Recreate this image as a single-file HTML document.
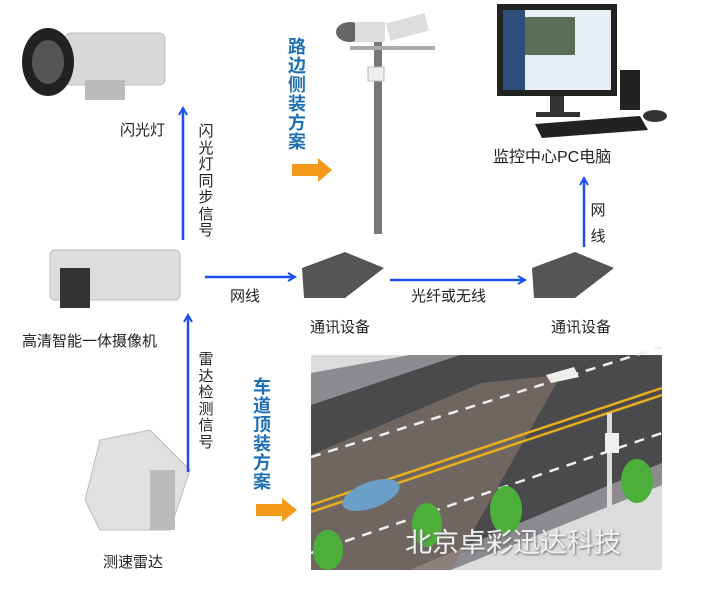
<!DOCTYPE html>
<html><head><meta charset="utf-8"><style>
body{margin:0;width:704px;height:589px;background:#fff;overflow:hidden;position:relative;font-family:"Liberation Sans","Noto Sans CJK SC",sans-serif}
.t{position:absolute;font-size:15px;color:#222;white-space:nowrap;line-height:1}
.v{position:absolute;font-size:15px;color:#222;width:16px;line-height:16.5px;text-align:center}
.b{color:#1f6fb5;font-size:18px;line-height:19px;width:20px;font-weight:bold}
svg{position:absolute;left:0;top:0}
</style></head><body>
<svg width="704" height="589">
<defs><marker id="a" markerWidth="10" markerHeight="10" refX="8" refY="5" orient="auto" markerUnits="userSpaceOnUse"><path d="M1,1 L8,5 L1,9" fill="none" stroke="#1a4ff0" stroke-width="2"/></marker></defs>
<!-- flash lamp -->
<rect x="65" y="33" width="100" height="52" rx="6" fill="#d8d8d8" stroke="#bbb"/>
<ellipse cx="48" cy="62" rx="26" ry="34" fill="#222"/>
<ellipse cx="48" cy="62" rx="16" ry="22" fill="#555"/>
<rect x="85" y="80" width="40" height="20" fill="#bbb"/>
<!-- camera -->
<rect x="50" y="250" width="130" height="50" rx="5" fill="#ddd" stroke="#bbb"/>
<rect x="60" y="268" width="30" height="40" fill="#333"/>
<!-- pole -->
<rect x="374" y="26" width="8" height="208" fill="#777"/>
<rect x="350" y="46" width="85" height="4" fill="#aaa"/>
<ellipse cx="350" cy="32" rx="14" ry="10" fill="#666"/>
<rect x="355" y="22" width="30" height="20" fill="#ddd"/>
<rect x="388" y="20" width="40" height="18" fill="#ddd" transform="rotate(-15 400 30)"/>
<rect x="368" y="67" width="16" height="14" fill="#eee" stroke="#bbb"/>
<!-- monitor -->
<rect x="497" y="4" width="120" height="92" fill="#222"/>
<rect x="503" y="10" width="108" height="80" fill="#e8eef5"/>
<rect x="503" y="10" width="22" height="80" fill="#2b4f7a"/>
<rect x="525" y="17" width="50" height="38" fill="#5a6e5a"/>
<rect x="550" y="96" width="14" height="18" fill="#333"/>
<rect x="536" y="112" width="44" height="5" fill="#333"/>
<rect x="620" y="70" width="20" height="40" fill="#222"/>
<polygon points="535,124 640,116 648,130 542,138" fill="#222"/>
<ellipse cx="655" cy="116" rx="12" ry="6" fill="#333"/>
<!-- comm devices -->
<polygon points="302,268 345,252 384,268 345,298 304,298" fill="#555"/>
<polygon points="532,268 575,252 614,268 575,298 534,298" fill="#555"/>
<!-- radar -->
<polygon points="100,440 150,430 190,470 170,530 100,530 85,500" fill="#e0e0e0" stroke="#bbb"/>
<rect x="150" y="470" width="25" height="60" fill="#bbb"/>
<!-- road -->
<g transform="translate(311,355)">
<rect width="351" height="215" fill="#dcdcdc"/>
<polygon points="0,18 99,0 351,0 351,0 0,70" fill="#8d8a90"/>
<polygon points="0,50 149,0 351,0 351,108 99,215 0,215" fill="#4a4a4c"/>
<polygon points="99,215 351,108 351,130 140,215" fill="#8d8a90"/>
<polygon points="0,215 0,100 170,28 250,20 140,215" fill="#8a7a70" opacity="0.6"/>
<line x1="0" y1="102" x2="351" y2="-8" stroke="#f0f0f0" stroke-width="2.5" stroke-dasharray="10 8"/>
<line x1="0" y1="150" x2="351" y2="33" stroke="#e8b020" stroke-width="2.5"/>
<line x1="0" y1="157" x2="351" y2="40" stroke="#e8b020" stroke-width="2.5"/>
<line x1="0" y1="198" x2="351" y2="78" stroke="#f0f0f0" stroke-width="2.5" stroke-dasharray="10 8"/>
<rect x="296" y="58" width="5" height="95" fill="#ddd"/>
<rect x="294" y="78" width="14" height="20" fill="#f0f0f0"/>
<polygon points="235,20 263,12 268,22 240,28" fill="#eee"/>
<ellipse cx="60" cy="140" rx="30" ry="13" fill="#6aa0c8" transform="rotate(-20 60 140)"/>
<ellipse cx="326" cy="126" rx="16" ry="22" fill="#4caf3a"/>
<ellipse cx="116" cy="170" rx="15" ry="22" fill="#4caf3a"/>
<ellipse cx="195" cy="155" rx="16" ry="24" fill="#4caf3a"/>
<ellipse cx="17" cy="195" rx="15" ry="20" fill="#4caf3a"/>
</g>
<!-- arrows -->
<g stroke="#1a4ff0" stroke-width="2.5" fill="none" marker-end="url(#a)">
<line x1="183" y1="240" x2="183" y2="108"/>
<line x1="188" y1="472" x2="188" y2="315"/>
<line x1="205" y1="277" x2="295" y2="277"/>
<line x1="390" y1="280" x2="525" y2="280"/>
<line x1="584" y1="247" x2="584" y2="178"/>
</g>
<polygon points="292,164 318,164 318,158 332,170 318,182 318,176 292,176" fill="#f39a1c"/>
<polygon points="256,504 282,504 282,498 297,510 282,522 282,516 256,516" fill="#f39a1c"/>
</svg>
<div class="t" style="left:120px;top:123px">闪光灯</div>
<div class="v" style="left:198px;top:124px">闪光灯同步信号</div>
<div class="v b" style="left:287px;top:38px">路边侧装方案</div>
<div class="t" style="left:493px;top:150px;font-size:16px">监控中心PC电脑</div>
<div class="v" style="left:590px;top:198px;line-height:26px">网线</div>
<div class="t" style="left:230px;top:289px">网线</div>
<div class="t" style="left:411px;top:289px">光纤或无线</div>
<div class="t" style="left:310px;top:320px">通讯设备</div>
<div class="t" style="left:551px;top:320px">通讯设备</div>
<div class="t" style="left:22px;top:334px">高清智能一体摄像机</div>
<div class="v" style="left:198px;top:352px">雷达检测信号</div>
<div class="v b" style="left:252px;top:378px">车道顶装方案</div>
<div class="t" style="left:103px;top:555px">测速雷达</div>
<div class="t" style="left:405px;top:530px;font-size:27px;color:#f2f2f2;text-shadow:1px 1px 2px #666">北京卓彩迅达科技</div>
</body></html>
